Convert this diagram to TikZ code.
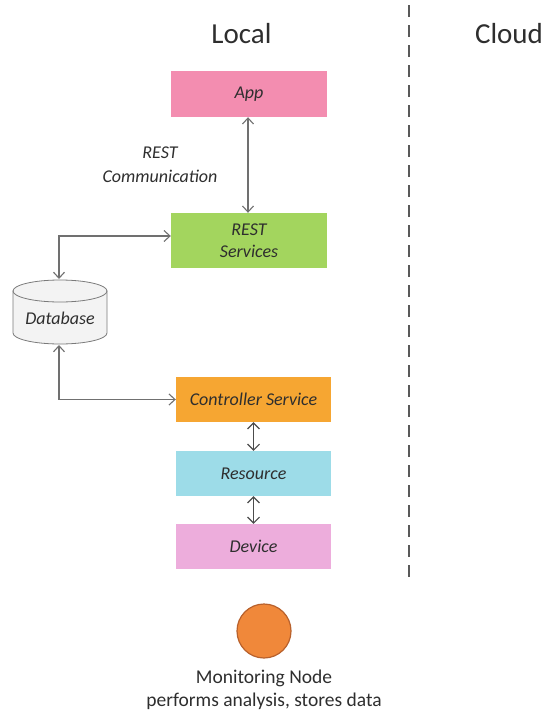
\documentclass[tikz,border=0pt]{standalone}
\usepackage{fontspec}
\setmainfont{Carlito}
\usetikzlibrary{arrows.meta}
\definecolor{appc}{HTML}{F38DB0}
\definecolor{restc}{HTML}{A3D55E}
\definecolor{ctrlc}{HTML}{F6A632}
\definecolor{resc}{HTML}{9DDCE8}
\definecolor{devc}{HTML}{EDADDC}
\definecolor{dbfill}{HTML}{F3F3F3}
\definecolor{dbline}{HTML}{7A7A7A}
\definecolor{arrc}{HTML}{707070}
\definecolor{txtc}{HTML}{2E2E2E}
\definecolor{monfill}{HTML}{F0883A}
\definecolor{monline}{HTML}{B8612C}
\tikzset{
  box/.style={inner sep=0pt, text=txtc, font=\fontsize{18}{22}\selectfont\itshape, align=center},
  lbl/.style={inner sep=0pt, text=txtc, align=center},
  biarrow/.style={draw=arrc, line width=1.1pt, {Straight Barb[length=6pt,width=11pt]}-{Straight Barb[length=6pt,width=11pt]}},
  smallarrow/.style={draw=black!70, line width=1.1pt, {Straight Barb[length=6pt,width=12pt]}-{Straight Barb[length=6pt,width=12pt]}},
}
\begin{document}
\begin{tikzpicture}[x=1pt,y=-1pt]
\useasboundingbox (0,0) rectangle (546,712);
% headings
\node[lbl, font=\fontsize{29}{34}\selectfont, anchor=base] (local) at (241.5,43) {Local};
\node[lbl, font=\fontsize{29}{34}\selectfont, anchor=base] (cloud) at (509,43) {Cloud};
% divider
\coordinate (divtop) at (409,5);
\coordinate (divbot) at (409,578);
\draw[line width=2pt, black!65, dash pattern=on 12pt off 8pt] (divtop) -- (divbot);
% boxes
\node[box, fill=appc, minimum width=156pt, minimum height=46pt] (app) at (249,94) {App};
\node[box, fill=restc, minimum width=156pt, minimum height=55pt] (rest) at (249,240.5) {REST\\Services};
\node[box, fill=ctrlc, minimum width=155pt, minimum height=45pt] (ctrl) at (253.5,399.5) {Controller Service};
\node[box, fill=resc, minimum width=155pt, minimum height=45pt] (res) at (253.5,473.5) {Resource};
\node[box, fill=devc, minimum width=155pt, minimum height=45pt] (dev) at (253.5,546.5) {Device};
% label
\node[box, font=\fontsize{18}{24}\selectfont\itshape] (restlbl) at (160,165) {REST\\Communication};
% database cylinder
\filldraw[fill=dbfill, draw=dbline, line width=0.8pt] (13,291) -- (13,333) arc[start angle=180, end angle=0, x radius=47, y radius=11] -- (107,291) -- cycle;
\filldraw[fill=dbfill, draw=dbline, line width=0.8pt] (60,291) ellipse [x radius=47, y radius=11];
\node[box, minimum width=94pt, minimum height=40pt] (db) at (60,318) {Database};
\coordinate (dbtop) at (59,279);
\coordinate (dbbot) at (59,345);
% connectors
\draw[biarrow] ([xshift=-1pt]app.south) -- ([xshift=-1pt]rest.north);
\draw[biarrow] ([yshift=4.5pt]rest.west) -| (dbtop);
\draw[biarrow] (dbbot) |- (ctrl.west);
\draw[smallarrow] (ctrl.south) -- (res.north);
\draw[smallarrow] (res.south) -- (dev.north);
% monitoring node
\node[circle, fill=monfill, draw=monline, line width=1.2pt, minimum size=54pt, inner sep=0pt] (mon) at (264,631) {};
\node[lbl, font=\fontsize{19.5}{23}\selectfont] (montext) at (264,690) {Monitoring Node\\performs analysis, stores data};
\end{tikzpicture}
\end{document}
